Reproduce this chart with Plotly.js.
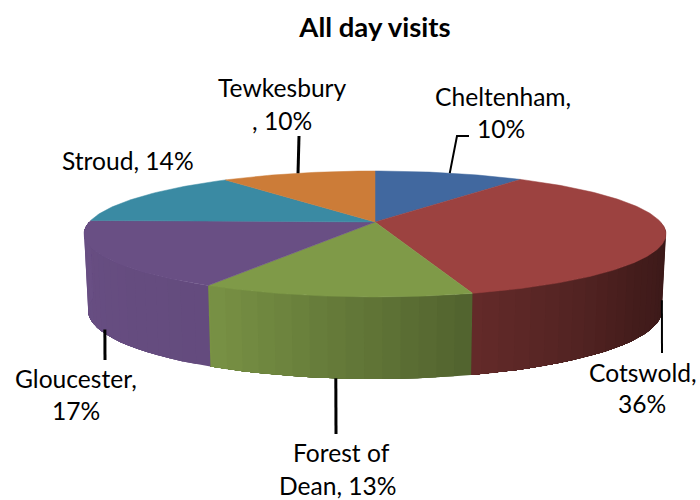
<!DOCTYPE html>
<html><head><meta charset="utf-8">
<script src="https://cdn.plot.ly/plotly-3.0.1.min.js"></script>
<style>html,body{margin:0;padding:0;background:#fff}#c{width:700px;height:500px}</style>
</head><body><div id="c"></div>
<script>
// Data, clockwise from 12 o'clock
var districts = ["Cheltenham","Cotswold","Forest of Dean","Gloucester","Stroud","Tewkesbury"];
var shares = [10, 35.5, 12.6, 17.3, 14.3, 10.3];
var colors = ["#41689F","#9C4240","#7F9A48","#694F84","#3A8AA3","#CC7C38"];
var labelLines = [
  ["Cheltenham,","{p}"],["Cotswold,","{p}"],["Forest of","Dean, {p}"],
  ["Gloucester,","{p}"],["Stroud, {p}"],["Tewkesbury",", {p}"]];
var labelX = [[503,501],[643,642],[341,338],[76,76],[128],[282,282]];
var labelY = [[96,128],[372,403],[452,485],[378,410],[160],[87,120]];
var leaderX = [[457,469],[662],[336],[105],null,[299]];
var leaderY = [[136,136],[353],[434],[360],null,[136]];
var leaderWidth = [2,2,3,3,0,3];
var leaderLift = [0,9,0,4,0,0];
var shadeAngles = [90,100,125,164,209,272];
var shadeLevels = [.37,.37,.43,.64,.95,1];

// Projection of the tilted disc
var cx=375, cy=222, A=285.7, a=60.7, k=.19, lowScale=.986, lowY=297.5, lowA=66;
function rad(t){return t*Math.PI/180;}
function top_(t){var u=Math.sin(rad(t)),v=Math.cos(rad(t)),d=1+k*v;return [cx+A*u/d, cy-a*v/d];}
function low_(t){var u=Math.sin(rad(t)),v=Math.cos(rad(t)),d=1+k*v;return [cx+A*lowScale*u/d, lowY-lowA*v/d];}
function shade(hex,t){
  var s=shadeLevels[shadeLevels.length-1];
  for(var i=0;i<shadeAngles.length-1;i++){
    if(t>=shadeAngles[i]&&t<=shadeAngles[i+1]){
      s=shadeLevels[i]+(shadeLevels[i+1]-shadeLevels[i])*(t-shadeAngles[i])/(shadeAngles[i+1]-shadeAngles[i]);break;}
  }
  var c=[1,3,5].map(function(p){return Math.round(parseInt(hex.substr(p,2),16)*s);});
  return "rgb("+c.join(",")+")";
}
var total=shares.reduce(function(p,q){return p+q;},0), start=0, bounds=shares.map(function(v){var b=[start,start+v/total*360];start=b[1];return b;});
var traces=[];
function poly(xs,ys,color,w){traces.push({type:"scatter",mode:"lines",x:xs,y:ys,fill:"toself",fillcolor:color,line:{color:color,width:w},hoverinfo:"skip",showlegend:false});}
// walls: each strip runs on under its neighbour, so no seams show
bounds.forEach(function(b,i){
  var from=Math.max(b[0],90), to=Math.min(b[1],270);
  for(var t=from;t<to;t+=3){
    var e=Math.min(t+3,to), ups=[], lows=[];
    for(var r=t;r<to;r+=3){ups.push(top_(r));lows.unshift(low_(r));}
    var pts=ups.concat([top_(to),low_(to)],lows);
    poly(pts.map(function(q){return q[0];}),pts.map(function(q){return q[1];}),shade(colors[i],(t+e)/2),0);
  }
});
// top faces
bounds.forEach(function(b,i){
  var xs=[cx],ys=[cy];
  for(var t=b[0];t<b[1];t+=1){var q=top_(t);xs.push(q[0]);ys.push(q[1]);}
  var e=top_(b[1]);xs.push(e[0],cx);ys.push(e[1],cy);
  poly(xs,ys,colors[i],.5);
});
// leaders & labels
var ann=[];
bounds.forEach(function(b,i){
  var mid=(b[0]+b[1])/2, pct=Math.round(shares[i]/total*100)+"%";
  if(leaderX[i]){
    var front=Math.cos(rad(mid))<0, s=front?low_(mid):top_(mid);
    traces.push({type:"scatter",mode:"lines",x:[s[0]].concat(leaderX[i]),y:[s[1]-leaderLift[i]].concat(leaderY[i]),
      line:{color:"#000",width:leaderWidth[i]},hoverinfo:"skip",showlegend:false});
  }
  labelLines[i].forEach(function(l,j){
    ann.push({x:labelX[i][j],y:labelY[i][j],xref:"x",yref:"y",text:l.replace("{p}",pct),showarrow:false,xanchor:"center",yanchor:"middle",font:{family:"Lato, Carlito, sans-serif",size:24.6,color:"#000"}});
  });
});
Plotly.newPlot("c",traces,{
  width:700,height:500,margin:{l:0,r:0,t:0,b:0},paper_bgcolor:"#fff",plot_bgcolor:"#fff",showlegend:false,
  title:{text:"<b>All day visits</b>",x:375/700,xanchor:"center",y:1-27/500,yanchor:"middle",font:{family:"Lato, Carlito, sans-serif",size:27.5,color:"#000"}},
  xaxis:{range:[0,700],visible:false,fixedrange:true},
  yaxis:{range:[500,0],visible:false,fixedrange:true},
  annotations:ann
},{displayModeBar:false,staticPlot:true});
</script></body></html>
